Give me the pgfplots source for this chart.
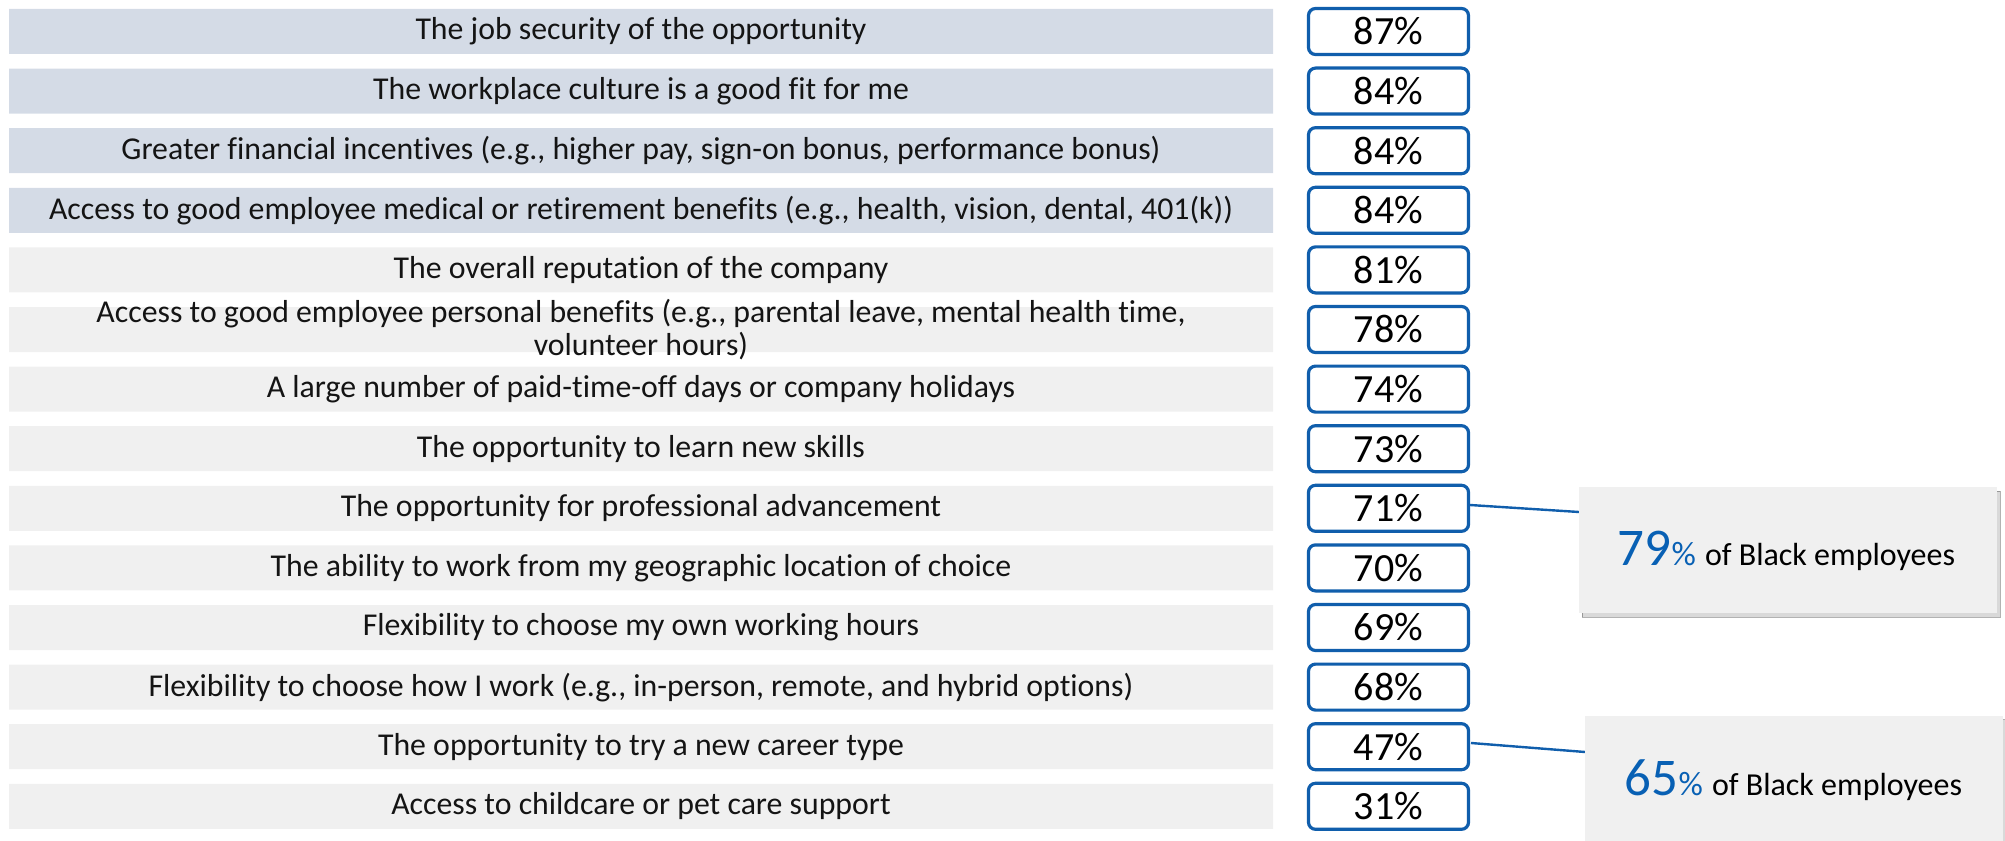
\documentclass[border=0pt]{standalone}
\usepackage{fontspec}
\setmainfont{Carlito}[Ligatures=CommonOff]
\usepackage{pgfplots}
\usepackage{pgfplotstable}
\pgfplotsset{compat=1.18}
\usetikzlibrary{shadows}

\definecolor{bandBlue}{RGB}{212,219,230}
\definecolor{bandGray}{RGB}{240,240,240}
\definecolor{boxBlue}{RGB}{16,94,172}
\definecolor{hiBlue}{RGB}{8,96,180}
\definecolor{txt}{RGB}{20,20,20}

% share of respondents per factor (rows top to bottom)
\pgfplotstableread[col sep=semicolon]{
idx;pct;label
0;87;The job security of the opportunity
1;84;The workplace culture is a good fit for me
2;84;Greater financial incentives (e.g., higher pay, sign-on bonus, performance bonus)
3;84;Access to good employee medical or retirement benefits (e.g., health, vision, dental, 401(k))
4;81;The overall reputation of the company
5;78;Access to good employee personal benefits (e.g., parental leave, mental health time,\\volunteer hours)
6;74;A large number of paid-time-off days or company holidays
7;73;The opportunity to learn new skills
8;71;The opportunity for professional advancement
9;70;The ability to work from my geographic location of choice
10;69;Flexibility to choose my own working hours
11;68;Flexibility to choose how I work (e.g., in-person, remote, and hybrid options)
12;47;The opportunity to try a new career type
13;31;Access to childcare or pet care support
}\rows

% callouts: value for Black employees, box centre, text base point
\pgfplotstableread[col sep=semicolon]{
val;bx;by;tx;ty
79;1779;550;1777.5;565
65;1785;778.5;1784.5;795
}\callouts

\pgfplotsset{
    labelpts/.style={only marks, mark=*, mark size=0pt,
        mark options={draw=none, fill=none},
        point meta=explicit symbolic, nodes near coords},
}

\begin{document}
\begin{tikzpicture}
\begin{axis}[
    width=2005bp, height=841bp, scale only axis,
    xmin=-9, xmax=1996, ymin=0, ymax=841, y dir=reverse,
    axis lines=none, clip=false,
]
% row bands
\addplot[xbar, bar width=45, bar shift=0pt, fill=bandBlue, draw=none,
    skip coords between index={4}{14}]
    table[x expr=1264, y expr=31.5+59.6*\thisrow{idx}] {\rows};
\addplot[xbar, bar width=45, bar shift=0pt, fill=bandGray, draw=none,
    skip coords between index={0}{4}]
    table[x expr=1264, y expr=31.5+59.6*\thisrow{idx}] {\rows};
% row labels
\addplot[labelpts,
    every node near coord/.append style={anchor=center, align=center,
        text=txt, font=\fontsize{31.8bp}{33bp}\selectfont}]
    table[x expr=632, y expr=31.5+59.6*\thisrow{idx}, meta=label] {\rows};
% connectors
\addplot[boxBlue, line width=2.4bp] coordinates {(1461,505) (1570,512)};
\addplot[boxBlue, line width=2.4bp] coordinates {(1462,743) (1576,752)};
% percentage boxes
\addplot[labelpts, nodes near coords={\pgfplotspointmeta\%},
    every node near coord/.append style={anchor=center, draw=boxBlue,
        line width=3.2bp, rounded corners=7bp, fill=white,
        minimum width=160bp, minimum height=46bp, inner sep=0pt,
        text=black, font=\fontsize{40bp}{42bp}\selectfont}]
    table[x expr=1379.5, y expr=31.5+59.6*\thisrow{idx}, meta=pct] {\rows};
% callout boxes
\addplot[labelpts, nodes near coords={},
    every node near coord/.append style={anchor=center, fill=bandGray,
        minimum width=418bp, minimum height=126bp, inner sep=0pt,
        drop shadow={shadow xshift=3bp, shadow yshift=-4bp, opacity=0.3}}]
    table[x=bx, y=by, meta=val] {\callouts};
\addplot[labelpts,
    nodes near coords={{\fontsize{53bp}{53bp}\selectfont\textcolor{hiBlue}{\pgfplotspointmeta}}{\fontsize{34bp}{34bp}\selectfont\textcolor{hiBlue}{\%}}\hspace{9bp}{\fontsize{32bp}{32bp}\selectfont of Black employees}},
    every node near coord/.append style={anchor=base, inner sep=0pt, text=black}]
    table[x=tx, y=ty, meta=val] {\callouts};
\end{axis}
\pgfresetboundingbox
\path[use as bounding box] (current axis.south west) rectangle (current axis.north east);
\end{tikzpicture}
\end{document}
